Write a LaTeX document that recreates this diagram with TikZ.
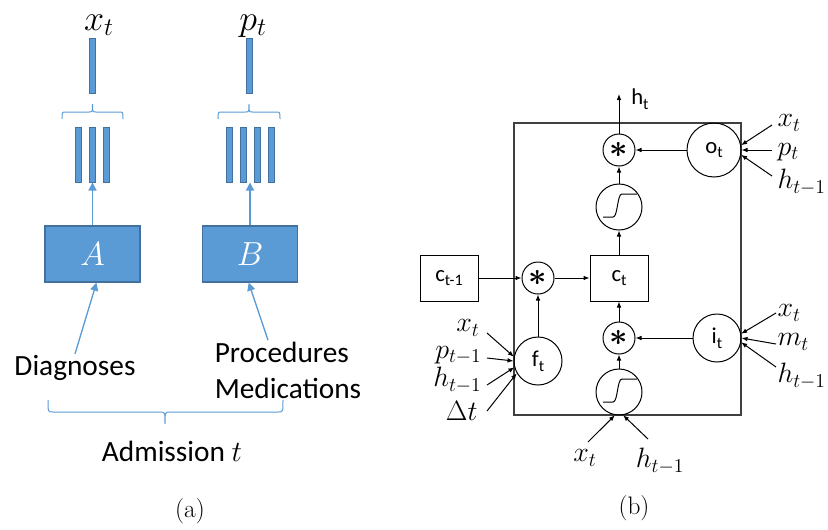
\RequirePackage{fix-cm}
\documentclass[tikz,border=0pt]{standalone}
\usepackage{fontspec}
\newfontfamily\calfont{Carlito}
\usetikzlibrary{arrows.meta}
\definecolor{offblue}{HTML}{5B9BD5}
\definecolor{offedge}{HTML}{41719C}
\newcommand{\sbs}[1]{\raisebox{-3.5pt}{\fontsize{12}{12}\selectfont #1}}
\tikzset{every picture/.style={line width=0.75pt}}
\begin{document}
\begin{tikzpicture}[x=0.75pt,y=0.75pt,yscale=-1,xscale=1,
	blk/.style={draw=offedge, fill=offblue, line width=1pt, minimum width=71.25pt, minimum height=42pt, inner sep=0pt, text=white, font=\fontsize{25}{25}\selectfont},
	bar/.style={draw=offedge, fill=offblue, line width=0.75pt, minimum width=4.5pt, minimum height=41.25pt, inner sep=0pt},
	barrow/.style={draw=offblue, line width=1pt, -{Triangle[length=6pt,width=6pt]}},
	brc/.style={draw=offblue, line width=0.75pt},
	sans/.style={inner sep=0.75pt, font=\calfont\fontsize{22}{27}\selectfont},
	lbl/.style={inner sep=0.75pt, font=\fontsize{21}{23}\selectfont},
	gate/.style={draw, circle, inner sep=0pt, font=\calfont\fontsize{17}{17}\selectfont},
	mul/.style={draw, circle, inner sep=0pt, minimum size=24pt, font=\boldmath\fontsize{24}{24}\selectfont},
	sig/.style={draw, circle, inner sep=0pt, minimum size=34.5pt},
	cbox/.style={draw, inner sep=0pt, minimum width=43.5pt, minimum height=34.5pt, font=\calfont\fontsize{17}{17}\selectfont},
	arr/.style={-{Latex[length=4.5pt,width=3.5pt]}}]
\useasboundingbox (0,0) rectangle (828,529);

% (a) embeddings of one admission
\node[lbl, font=\fontsize{27}{27}\selectfont, anchor=base] (xt) at (99,30) {$x_t$};
\node[lbl, font=\fontsize{27}{27}\selectfont, anchor=base] (pt) at (253,30) {$p_t$};
\node[bar] (xv) at (92.5,65.5) {};
\node[bar] (pv) at (249,65.5) {};
\foreach \i/\x in {1/78,2/92,3/106}
	\node[bar] (xa\i) at (\x,154.5) {};
\foreach \i/\x in {1/229,2/243,3/257,4/271}
	\node[bar] (pb\i) at (\x,154.5) {};
\node[blk] (A) at (92.5,254) {$A$};
\node[blk] (B) at (250,254) {$B$};
\draw[barrow] (A.north) -- (A.north |- xa2.south);
\draw[barrow] (B.north) -- (B.north |- pb2.south);

% braces
\draw[brc] (62,119) .. controls (62,112) .. (66,112) -- (89,112) .. controls (92.5,112) .. (92.5,104) .. controls (92.5,112) .. (96,112) -- (119,112) .. controls (123,112) .. (123,119);
\draw[brc] (218,119) .. controls (218,112) .. (222,112) -- (245.5,112) .. controls (249,112) .. (249,104) .. controls (249,112) .. (252.5,112) -- (276,112) .. controls (280,112) .. (280,119);
\draw[brc] (48,400) .. controls (48,412) .. (53,412) -- (160,412) .. controls (165,412) .. (165,424) .. controls (165,412) .. (170,412) -- (278,412) .. controls (283,412) .. (283,400);

\node[sans] (diag) at (75,368) {Diagnoses};
\node[sans, align=left] (proc) at (288,370) {Procedures\\Medications};
\node[sans] (adm) at (172,451) {Admission $t$};
\draw[barrow] (diag.north) -- ([xshift=3pt]A.south);
\draw[barrow] ([xshift=-15pt]proc.north) -- ([xshift=-1pt]B.south);

\node[font=\fontsize{19}{21}\selectfont] (capa) at (190,511) {(a)};

% (b) the cell
\node[draw=black!75, line width=0.8pt, minimum width=170.25pt, minimum height=219pt, inner sep=0pt] (cell) at (627.5,269) {};
\node[mul] (mt) at (619,150) {$\ast$};
\node[gate, minimum size=40.5pt] (ot) at (714,150) {o\sbs{t}};
\node[sig] (st) at (619,207) {};
\node[cbox] (ct) at (619,278) {c\sbs{t}};
\node[cbox] (cp) at (449,278) {c\sbs{t-1}};
\node[mul] (mf) at (538,278) {$\ast$};
\node[gate, minimum size=36pt] (ft) at (538,361) {f\sbs{t}};
\node[mul] (mi) at (619,338) {$\ast$};
\node[gate, minimum size=36pt] (it) at (717,338) {i\sbs{t}};
\node[sig] (sb) at (619,392) {};
\begin{scope}[shift={(619,207)}]
	\draw (-16,10) -- (-6,10) .. controls (-1,10) and (-2,-13) .. (3,-13) -- (18,-13);
\end{scope}
\begin{scope}[shift={(619,392)}]
	\draw (-16,10) -- (-6,10) .. controls (-1,10) and (-2,-13) .. (3,-13) -- (18,-13);
\end{scope}

\node[gate, draw=none, anchor=west] (ht) at (626,99) {h\sbs{t}};
\coordinate (hout) at (619,94);
\draw[arr] (mt) -- (hout);
\draw[arr] (ot) -- (mt);
\draw[arr] (st) -- (mt);
\draw[arr] (ct) -- (st);
\draw[arr] (cp) -- (mf);
\draw[arr] (mf) -- (ct);
\draw[arr] (ft) -- (mf);
\draw[arr] (mi) -- (ct);
\draw[arr] (it) -- (mi);
\draw[arr] (sb) -- (mi);

% inputs of the gates
\node[lbl, anchor=west] (ox) at (776,123) {$x_t$};
\node[lbl, anchor=west] (op) at (776,152) {$p_t$};
\node[lbl, anchor=west] (oh) at (776,182) {$h_{t-1}$};
\draw[arr] ([shift={(-4,2)}]ox.west) -- (ot.10);
\draw[arr] ([shift={(-4,-2)}]op.west) -- (ot.0);
\draw[arr] ([shift={(-4,-6)}]oh.west) -- (ot.-10);

\node[lbl, anchor=west] (ix) at (776,313) {$x_t$};
\node[lbl, anchor=west] (im) at (776,342) {$m_t$};
\node[lbl, anchor=west] (ih) at (776,376) {$h_{t-1}$};
\draw[arr] (ix.west) -- (it.10);
\draw[arr] ([yshift=1.5pt]im.west) -- (it.0);
\draw[arr] ([shift={(0,-9)}]ih.west) -- (it.-10);

\node[lbl, anchor=east] (fx) at (481,328) {$x_t$};
\node[lbl, anchor=east] (fp) at (483,355) {$p_{t-1}$};
\node[lbl, anchor=east] (fh) at (483,380) {$h_{t-1}$};
\node[lbl, anchor=east] (fd) at (479,411) {$\Delta t$};
\draw[arr] ([shift={(6,5)}]fx.east) -- (ft.170);
\draw[arr] ([shift={(4,3)}]fp.east) -- (ft.180);
\draw[arr] ([shift={(4,5)}]fh.east) -- (ft.195);
\draw[arr] ([shift={(8,0)}]fd.east) -- (ft.210);

\node[lbl] (bx) at (585,458) {$x_t$};
\node[lbl] (bh) at (660,461) {$h_{t-1}$};
\draw[arr] ([shift={(3,-16)}]bx.center) -- (sb.-100);
\draw[arr] ([shift={(-12,-22)}]bh.center) -- (sb.-80);

\node[font=\fontsize{19}{21}\selectfont] (capb) at (634,508) {(b)};
\end{tikzpicture}
\end{document}
